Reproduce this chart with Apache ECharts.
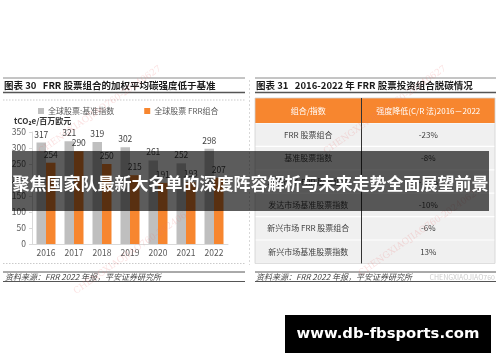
<!DOCTYPE html>
<html>
<head>
<meta charset="utf-8">
<script src="https://cdn.jsdelivr.net/npm/echarts@6/dist/echarts.min.js"></script>
<style>
html,body{margin:0;padding:0;background:#fff;}
#c{width:500px;height:362px;}
</style>
</head>
<body>
<div id="c"></div>
<script>
// ---- data ----
const years = ['2016','2017','2018','2019','2020','2021','2022'];
const benchmarkValues = [317, 321, 319, 302, 261, 252, 298];
const frrValues = [254, 290, 250, 215, 191, 193, 207];
const seriesNames = ['全球股票:基准指数', '全球股票 FRR组合'];
const yMin = 0, yMax = 350, yStep = 50;
const tableHeader = ['组合/指数', '强度降低(C/R 法)2016－2022'];
const tableNames = ['FRR 股票组合', '基准股票指数', '发达市场 FRR 股票组合', '发达市场基准股票指数', '新兴市场 FRR 股票组合', '新兴市场基准股票指数'];
const tableValues = ['-23%', '-8%', '-25%', '-10%', '-6%', '13%'];
const leftTitle = '图表 30   FRR 股票组合的加权平均碳强度低于基准';
const rightTitle = '图表 31   2016-2022 年 FRR 股票投资组合脱碳情况';
const unitText = 'tCO₂e/百万欧元';
const sourceText = '资料来源：FRR 2022 年报，平安证券研究所';
const bannerText = '聚焦国家队最新大名单的深度阵容解析与未来走势全面展望前景';
const urlText = 'www.db-fbsports.com';
const watermark = 'CHENGXIAOJIAO760-20240627';

// ---- graphics ----
const CJK = '"Noto Sans CJK SC", "Noto Sans", sans-serif';
const g = [];
function line(x1,y1,x2,y2,stroke,w,dash,z){
  g.push({type:'line', z: z||1, shape:{x1,y1,x2,y2}, style:{stroke, lineWidth:w, lineDash:dash||null}});
}
function text(t,x,y,font,fill,align,z){
  g.push({type:'text', z: z||5, style:{text:t, x, y, font, fill, textAlign:align||'left', textVerticalAlign:'middle'}});
}
// panel frames
line(3,78,245,78,'#8a8a8a',1);
line(255,78,496,78,'#8a8a8a',1);
line(3,92.5,245,92.5,'#555',1.5);
line(255,92.5,496,92.5,'#555',1.5);
text(leftTitle,4,85.5,'bold 9.5px '+CJK,'#1a1a1a');
text(rightTitle,256,85.5,'bold 9.5px '+CJK,'#1a1a1a');
line(3,100,245,100,'#bdbdbd',0.8,[1.5,1.5]);
line(3,263.5,245,263.5,'#bdbdbd',0.8,[1.5,1.5]);
line(249.5,80,249.5,265,'#cfcfcf',0.8,[2,2]);
text(unitText,14,120.5,'bold 8px '+CJK,'#333');
// source rows
[[3,245,5],[255,496,256]].forEach(function(p){
  line(p[0],272,p[1],272,'#555',1);
  line(p[0],281.5,p[1],281.5,'#555',1);
  text(sourceText,p[2],277,'italic 8px '+CJK,'#444');
});
text('CHENGXIAOJIAO760',495,277,'7px '+CJK,'#cccccc','right');

// table
const tX0 = 255, tX1 = 495, tDiv = 361.5, tTop = 98, tHead = 123, rowH = 23.4;
g.push({type:'rect', z:2, shape:{x:tX0,y:tTop,width:tX1-tX0,height:tHead-tTop}, style:{fill:'#f7862f'}});
text(tableHeader[0],(tX0+tDiv)/2,(tTop+tHead)/2,'8px '+CJK,'#ffffff','center');
text(tableHeader[1],(tDiv+tX1)/2,(tTop+tHead)/2,'8px '+CJK,'#ffffff','center');
tableNames.forEach(function(n,i){
  const y0 = tHead + i*rowH;
  g.push({type:'rect', z:2, shape:{x:tX0,y:y0+0.6,width:tX1-tX0,height:rowH-1.2}, style:{fill:'#f0f0f0'}});
  text(n,(tX0+tDiv)/2,y0+rowH/2,'8px '+CJK,'#404040','center');
  text(tableValues[i],(tDiv+tX1)/2,y0+rowH/2,'8px '+CJK,'#404040','center');
});
const tBottom = tHead + tableNames.length*rowH;
g.push({type:'rect', z:2, shape:{x:tX0,y:tTop,width:tX1-tX0,height:tBottom-tTop}, style:{fill:'none',stroke:'#d0d0d0',lineWidth:0.8}});
line(tDiv,tTop,tDiv,tBottom,'#333',1,null,6);

// watermarks
[[100,110],[385,110],[135,250],[420,232]].forEach(function(p){
  g.push({type:'text', z:8, x:p[0], y:p[1], rotation: 35*Math.PI/180,
    style:{text:watermark, x:0, y:0, font:'9px "DejaVu Serif", serif', fill:'rgba(235,120,120,0.22)', textAlign:'center', textVerticalAlign:'middle'}});
});

// banner
g.push({type:'rect', z:50, shape:{x:12,y:151,width:477,height:60}, style:{fill:'rgba(0,0,0,0.64)'}});
text(bannerText,250.5,184,'bold 17px '+CJK,'#ffffff','center',51);
// url box
g.push({type:'rect', z:50, shape:{x:285,y:315,width:206,height:38}, style:{fill:'#000'}});
text(urlText,388,334,'bold 14.8px "DejaVu Sans", sans-serif','#ffffff','center',51);

const chart = echarts.init(document.getElementById('c'), null, {renderer:'canvas', width:500, height:362});
chart.setOption({
  animation:false,
  backgroundColor:'#ffffff',
  textStyle:{fontFamily:CJK},
  legend:{
    left:33, top:102, itemWidth:6, itemHeight:6, itemGap:30, icon:'rect',
    textStyle:{fontSize:8, color:'#595959', padding:[0,0,0,-1]},
    data:seriesNames
  },
  grid:{left:32, right:272, top:132, bottom:118, containLabel:false},
  xAxis:{
    type:'category', data:years,
    axisLine:{lineStyle:{color:'#d9d9d9'}},
    axisTick:{show:false},
    axisLabel:{color:'#595959', fontSize:8.5, margin:5}
  },
  yAxis:{
    type:'value', min:yMin, max:yMax, interval:yStep,
    axisLine:{show:true, lineStyle:{color:'#d9d9d9'}},
    axisTick:{show:true, length:3, lineStyle:{color:'#d9d9d9'}},
    splitLine:{show:false},
    axisLabel:{color:'#595959', fontSize:8.5, margin:6}
  },
  series:[
    {name:seriesNames[0], type:'bar', data:benchmarkValues, barWidth:9.5, barGap:'0%',
     itemStyle:{color:'#bfbfbf'},
     label:{show:true, position:'top', distance:4, fontSize:8.5, color:'#404040'}},
    {name:seriesNames[1], type:'bar', data:frrValues, barWidth:9.5, barGap:'0%',
     itemStyle:{color:'#f7862f'},
     label:{show:true, position:'top', distance:4, fontSize:8.5, color:'#404040'}}
  ],
  graphic:{elements:g}
});
</script>
</body>
</html>
